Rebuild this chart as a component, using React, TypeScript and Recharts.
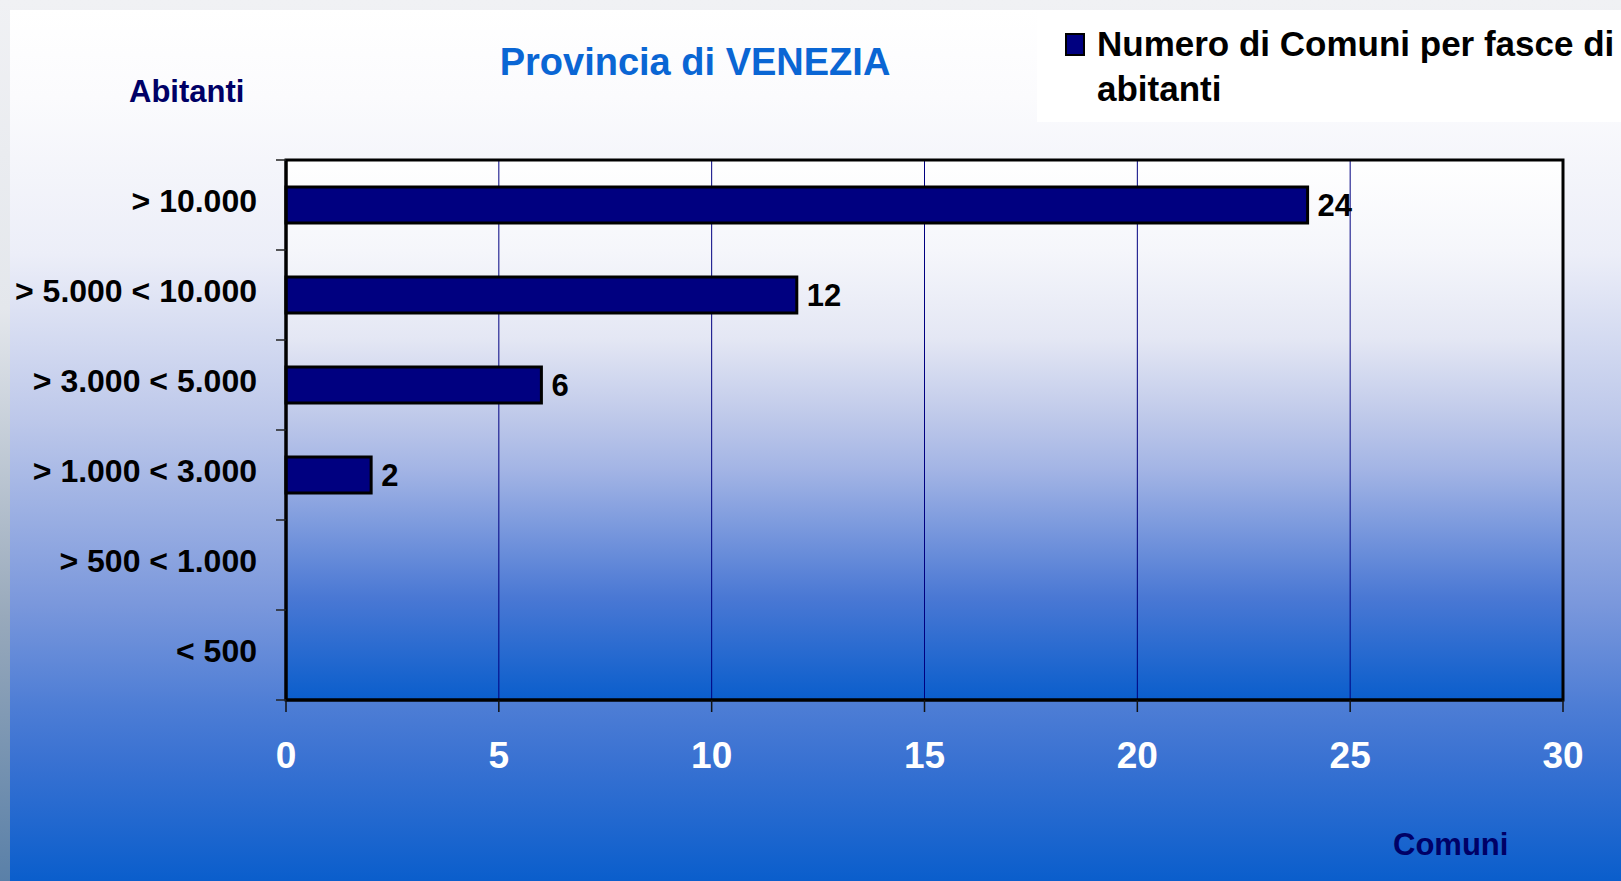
import React from "react";
import { BarChart, Bar, XAxis, YAxis, CartesianGrid, LabelList, Legend, ReferenceArea } from "recharts";

const fasce = ["> 10.000", "> 5.000 < 10.000", "> 3.000 < 5.000", "> 1.000 < 3.000", "> 500 < 1.000", "< 500"];
const numeroComuni = [24, 12, 6, 2, 0, 0];
const comuniTicks = [0, 5, 10, 15, 20, 25, 30];

const rows = fasce.map((fascia, i) => ({ fascia, comuni: numeroComuni[i] }));

const SANS = "'Liberation Sans', Arial, Helvetica, sans-serif";
const NARROW = "'Liberation Sans Narrow', 'Arial Narrow', 'Liberation Sans', sans-serif";

// category label + small tick marks at the band boundaries (as in the original)
function FasciaTick(props: any) {
  const { x, y, payload, index } = props;
  const half = payload && payload.offset ? payload.offset : 45;
  const markX1 = x + 19;
  const markX2 = x + 29;
  return (
    <g>
      <line x1={markX1} x2={markX2} y1={y - half} y2={y - half} stroke="#222" strokeWidth={1.5} />
      {index === fasce.length - 1 && (
        <line x1={markX1} x2={markX2} y1={y + half} y2={y + half} stroke="#222" strokeWidth={1.5} />
      )}
      <text
        x={x}
        y={y}
        dy={7}
        textAnchor="end"
        fill="#000"
        fontSize={32}
        fontWeight={700}
        fontFamily={SANS}
      >
        {payload.value}
      </text>
    </g>
  );
}

function LegendBox() {
  return (
    <div style={{ width: 584, height: 111, background: "#fff", position: "relative" }}>
      <div
        style={{
          position: "absolute",
          left: 28,
          top: 22,
          width: 20,
          height: 23,
          background: "#000080",
          border: "2px solid #000",
          boxSizing: "border-box",
        }}
      />
      <div
        style={{
          position: "absolute",
          left: 60,
          top: 10,
          font: `bold 35px ${SANS}`,
          lineHeight: "45px",
          color: "#000",
          whiteSpace: "nowrap",
        }}
      >
        Numero di Comuni per fasce di
        <br />
        abitanti
      </div>
    </div>
  );
}

export default function App() {
  return (
    <div
      style={{
        position: "fixed",
        left: 0,
        top: 0,
        width: 1621,
        height: 881,
        overflow: "hidden",
        background: "linear-gradient(to bottom, #f0f1f4 0%, #e4e7ec 35%, #98a9bb 70%, #5a80a8 100%)",
      }}
    >
      <div
        style={{
          position: "absolute",
          left: 10,
          top: 10,
          right: 0,
          bottom: 0,
          background:
            "linear-gradient(to bottom, #ffffff 0%, #fbfbfd 10%, #eceef8 28%, #bdc8ea 47%, #7b98dc 68%, #4d7dd5 80%, #3a72d2 86%, #0a5ecc 100%)",
        }}
      />
      <div style={{ position: "absolute", left: 0, top: 0 }}>
        <BarChart
          width={1621}
          height={881}
          layout="vertical"
          data={rows}
          margin={{ top: 160, right: 58, bottom: 121, left: 0 }}
        >
          <defs>
            <linearGradient id="plotGrad" x1="0" y1="0" x2="0" y2="1">
              <stop offset="0%" stopColor="#ffffff" />
              <stop offset="17%" stopColor="#f5f6fb" />
              <stop offset="33%" stopColor="#e4e7f4" />
              <stop offset="47%" stopColor="#c0caea" />
              <stop offset="57%" stopColor="#a4b5e5" />
              <stop offset="81%" stopColor="#4a78d4" />
              <stop offset="100%" stopColor="#0a5ecc" />
            </linearGradient>
          </defs>
          <CartesianGrid
            xAxisId="val"
            yAxisId="cat"
            horizontal={false}
            vertical
            stroke="#000080"
            strokeWidth={1}
            fill="url(#plotGrad)"
          />
          <YAxis
            yAxisId="cat"
            type="category"
            dataKey="fascia"
            width={286}
            tickLine={false}
            tickSize={10}
            tickMargin={19}
            axisLine={{ stroke: "#000", strokeWidth: 3 }}
            tick={<FasciaTick />}
          />
          <XAxis
            xAxisId="val"
            type="number"
            domain={[0, 30]}
            ticks={comuniTicks}
            height={60}
            tickSize={12}
            tickMargin={30}
            tickLine={{ stroke: "#111", strokeWidth: 1.5 }}
            axisLine={{ stroke: "#000", strokeWidth: 3 }}
            tick={{ fill: "#fff", fontSize: 37, fontWeight: 700, fontFamily: NARROW }}
          />
          <ReferenceArea
            xAxisId="val"
            yAxisId="cat"
            x1={0}
            x2={30}
            fill="none"
            fillOpacity={0}
            stroke="#000"
            strokeWidth={3}
          />
          <Legend
            layout="vertical"
            align="center"
            verticalAlign="middle"
            wrapperStyle={{ position: "absolute", left: 1037, top: 11, width: 584, height: 111 }}
            content={() => <LegendBox />}
          />
          <Bar
            xAxisId="val"
            yAxisId="cat"
            dataKey="comuni"
            name="Numero di Comuni per fasce di abitanti"
            fill="#000080"
            stroke="#000"
            strokeWidth={3}
            barSize={36}
            isAnimationActive={false}
          >
            <LabelList
              dataKey="comuni"
              position="right"
              offset={10}
              formatter={(v: any) => (v ? v : "")}
              style={{ fill: "#000", fontSize: 31, fontWeight: 700, fontFamily: NARROW }}
            />
          </Bar>
        </BarChart>
      </div>
      <svg
        width={1621}
        height={881}
        style={{ position: "absolute", left: 0, top: 0, pointerEvents: "none" }}
      >
        <text x={695} y={75} textAnchor="middle" fill="#0a66d4" fontSize={38} fontWeight={700} fontFamily={SANS}>
          Provincia di VENEZIA
        </text>
        <text x={129} y={102} fill="#000066" fontSize={31} fontWeight={700} fontFamily={SANS}>
          Abitanti
        </text>
        <text x={1393} y={855} fill="#000066" fontSize={31} fontWeight={700} fontFamily={SANS}>
          Comuni
        </text>
      </svg>
    </div>
  );
}
